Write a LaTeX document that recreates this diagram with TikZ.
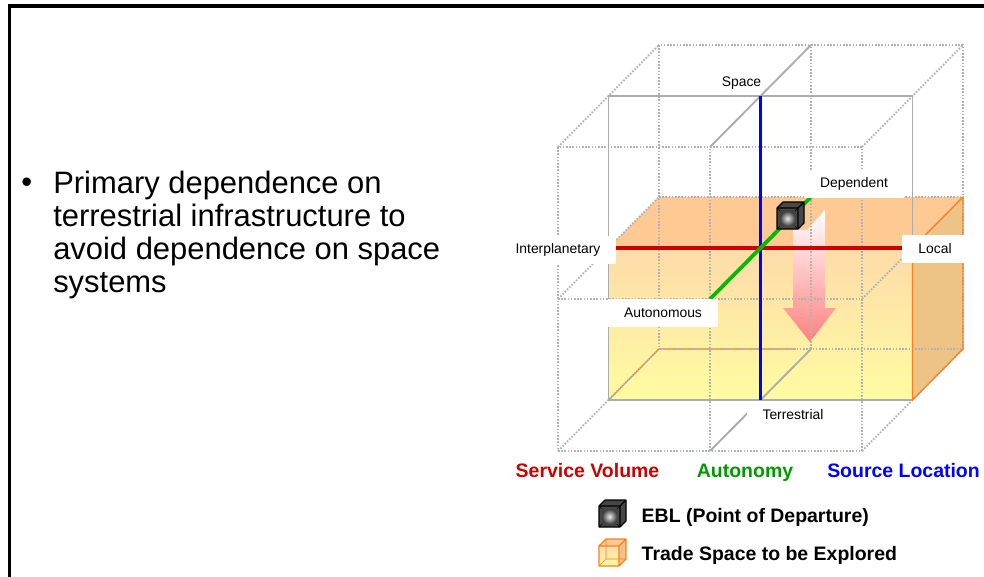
\documentclass[tikz,border=0pt]{standalone}
\usepackage{fontspec}
\setmainfont{Liberation Sans}
\usetikzlibrary{calc,
                shadings}

\definecolor{tsTop}{HTML}{FFC993}
\definecolor{tsFrontTop}{HTML}{FDDBA8}
\definecolor{tsFrontBot}{HTML}{FFFCA2}
\definecolor{tsSide}{HTML}{EDC386}
\definecolor{tsEdge}{HTML}{FF7F1E}
\definecolor{svRed}{HTML}{CC0000}
\definecolor{auGreen}{HTML}{00BB00}
\definecolor{auText}{HTML}{009900}
\definecolor{slBlue}{HTML}{0000FF}
\definecolor{arrowPink}{HTML}{FF8080}

\tikzset{
  gridline/.style={gray!60, line width=1.4pt, dash pattern=on 1.2pt off 1.2pt},
  midframe/.style={gray!65, line width=1.4pt},
  tsedge/.style={tsEdge, line width=0.9pt},
  axis/.style={line width=2.8pt},
  axislabel/.style={fill=white, inner xsep=12pt, minimum height=21pt,
                    font=\fontsize{10.4}{12}\selectfont},
  axistitle/.style={anchor=base, font=\bfseries\fontsize{14.6}{16}\selectfont},
  legendtext/.style={anchor=base west, font=\bfseries\fontsize{14.6}{16}\selectfont},
  pics/eblcube/.style={code={
    \fill[black!72] (0,0) -- (0,-21) -- (6,-27) -- (27,-27) -- (27,-6) -- (21,0) -- cycle;
    \shade[inner color=gray!15, outer color=gray!50!black] (3,-3) rectangle (18,-18);
    \draw[black, line width=0.4pt] (0,0) -- (3,-3) (21,0) -- (18,-3)
          (21,-21) -- (18,-18) (0,-21) -- (3,-18);
    \draw[black, line width=0.9pt, line join=round] (0,0) rectangle (21,-21)
          (0,-21) -- (6,-27) -- (27,-27) -- (27,-6) -- (21,0) (21,-21) -- (27,-27);
  }},
  pics/tradecube/.style={code={
    \fill[tsSide] (20,0) -- (27,-7) -- (27,-27) -- (20,-20) -- cycle;
    \fill[tsTop] (0,-20) -- (7,-27) -- (27,-27) -- (20,-20) -- cycle;
    \shade[top color=tsFrontTop, bottom color=tsFrontBot] (0,0) rectangle (20,-20);
    \draw[tsEdge, line width=0.4pt] (0,0) -- (7,-7) -- (27,-7) (7,-7) -- (7,-27);
    \draw[tsEdge, line width=1pt, line join=round] (0,0) rectangle (20,-20)
          (0,-20) -- (7,-27) -- (27,-27) -- (27,-7) -- (20,0) (20,-20) -- (27,-27);
  }}
}

\begin{document}
\begin{tikzpicture}[x=0.75pt, y=-0.75pt]
 \useasboundingbox (0,0) rectangle (984,577);
 \draw[line width=2.3pt] (9.5,577) -- (9.5,6) -- (984,6);

 \node[anchor=base west, inner sep=0pt, font=\fontsize{23.2}{24.75}\selectfont] (bullet) at (21,193) {•};
 \node[anchor=north west, inner sep=0pt, align=left,
       font=\fontsize{23.2}{24.75}\selectfont] (point) at (53,171)
   {Primary dependence on\\terrestrial infrastructure to\\avoid dependence on space\\systems};

 \foreach \u in {0,1,2}
   \foreach \v in {0,1,2}
     \foreach \w in {0,1,2}
       \coordinate (c\u\v\w) at ({558+152*\u+50.5*\w},{451-152*\v-51*\w});

 \fill[tsTop] (c011) -- (c211) -- (c212) -- (c012) -- cycle;
 \fill[tsSide] (c201) -- (c202) -- (c212) -- (c211) -- cycle;
 \shade[top color=tsFrontTop, bottom color=tsFrontBot] (c001) rectangle (c211);
 \draw[tsedge] (c001) -- (c002) -- ($(c002)!0.45!(c202)$);

 \shade[top color=white, bottom color=arrowPink]
   (793,230) -- (807,230) -- (825,210) -- (825,308) -- (836,308) -- (810,342)
   -- (783,308) -- (793,308) -- cycle;

 \draw[gridline] (c000) -- (c200) -- (c220) -- (c020) -- cycle
                 (c100) -- (c120) (c010) -- (c210)
                 (c002) -- (c202) -- (c222) -- (c022) -- cycle
                 (c102) -- (c122) (c012) -- (c212);
 \foreach \u/\v in {0/0,0/1,0/2,2/0,2/1,2/2}
   \draw[gridline] (c\u\v0) -- (c\u\v2);
 \draw[midframe] (c001) rectangle (c221);
 \draw[midframe] (c100) -- (c102) (c120) -- (c122);
 \draw[tsedge] (c201) -- (c202) -- (c212) -- (c211) -- cycle;

 \draw[axis, slBlue] (c101) -- (c121);
 \draw[axis, svRed] (c011) -- (c211);
 \draw[axis, auGreen] (c110) -- (c112);

 \pic at (777,229) {eblcube};

 \node[anchor=base, font=\fontsize{10.4}{12}\selectfont] (space) at (741.5,87) {Space};
 \node[axislabel] (terrestrial) at (793,415) {Terrestrial};
 \node[axislabel] (interplanetary) at (558,250) {Interplanetary};
 \node[axislabel] (local) at (935,249) {Local};
 \node[axislabel] (autonomous) at (663,313) {Autonomous};
 \node[axislabel] (dependent) at (854,184) {Dependent};

 \node[axistitle, svRed] (svtitle) at (587.5,477) {Service Volume};
 \node[axistitle, auText] (autitle) at (745,477) {Autonomy};
 \node[axistitle, slBlue] (sltitle) at (903.5,477) {Source Location};

 \pic at (599,527) {eblcube};
 \node[legendtext] (ebl) at (637,522) {EBL (Point of Departure)};
 \pic at (599,566) {tradecube};
 \node[legendtext] (trade) at (637,560) {Trade Space to be Explored};
\end{tikzpicture}
\end{document}
